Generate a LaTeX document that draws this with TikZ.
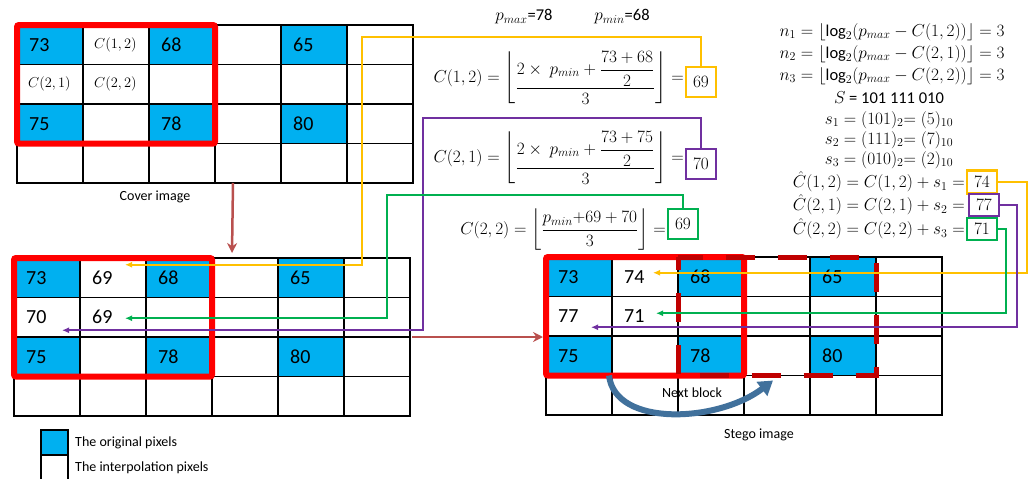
\documentclass[tikz,border=0pt]{standalone}
\usepackage{amsmath}
\usepackage{fontspec}
\setmainfont{Carlito}
\usepackage{tikz}
\usetikzlibrary{arrows.meta, positioning, calc}
\definecolor{pixblue}{HTML}{00B0F0}
\definecolor{blockred}{HTML}{FF0000}
\definecolor{nextred}{HTML}{C00000}
\definecolor{flowbrown}{HTML}{B9504E}
\definecolor{linkyellow}{HTML}{FFC000}
\definecolor{linkpurple}{HTML}{7030A0}
\definecolor{linkgreen}{HTML}{00B050}
\definecolor{jumpblue}{HTML}{41719C}

% 4x6 pixel grid: name, left, top
\newcommand{\pixgrid}[3]{%
  \foreach \r in {0,...,3}
    \foreach \c in {0,...,5}{
      \pgfmathtruncatemacro\isorig{(mod(\r,2)==0 && \r<3 && mod(\c,2)==0) ? 1 : 0}
      \ifnum\isorig=1 \def\pixfill{pixblue}\else\def\pixfill{white}\fi
      \node[cell, fill=\pixfill] (#1-\r-\c) at ({#2+66*\c+33}, {#3+39.5*\r+19.75}) {};
    }}
% floor brackets that wrap the fraction tightly
\newcommand{\tightfloor}[1]{\left\lfloor\vcenter{\hbox{$\displaystyle #1$}}\right\rfloor}

\begin{document}
\begin{tikzpicture}[
    x=1pt, y=-1pt,
    cell/.style={rectangle, draw, line width=1.2pt, minimum width=66pt, minimum height=39.5pt, inner sep=0pt, outer sep=0pt},
    pixval/.style={anchor=west, inner sep=0pt, font=\fontsize{20}{24}\selectfont},
    pixlabel/.style={anchor=west, inner sep=0pt, font=\fontsize{14.5}{17}\selectfont},
    redblock/.style={draw=blockred, line width=6pt, rounded corners=2pt},
    nextblock/.style={draw=nextred, line width=5pt, dash pattern=on 29pt off 23pt, dash phase=16pt},
    flow/.style={-{Stealth[length=10pt, width=10pt]}, line width=2.5pt, flowbrown},
    link/.style={-{Latex[length=7pt, width=6pt]}, line width=1.8pt, #1},
    jump/.style={-{Triangle[length=14pt, width=17pt]}, line width=6pt, jumpblue},
    valbox/.style={rectangle, draw=#1, line width=2.2pt, minimum width=30pt, minimum height=30pt, inner sep=1pt, font=\fontsize{17}{20}\selectfont},
    formula/.style={inner sep=0pt, anchor=east, font=\fontsize{16.5}{19}\selectfont},
    embed/.style={inner sep=0pt, font=\fontsize{16.5}{19}\selectfont},
    caption/.style={inner sep=0pt, font=\fontsize{14}{17}\selectfont}
]
\useasboundingbox (0,0) rectangle (1029,479);

% grids
\pixgrid{cv}{17}{25}
\pixgrid{mid}{14}{258}
\pixgrid{st}{546}{257}

\foreach \r/\c/\v in {0/0/73, 0/2/68, 0/4/65, 2/0/75, 2/2/78, 2/4/80}
  \node[pixval] (cvv-\r-\c) at ([xshift=12pt]cv-\r-\c.west) {\v};
\foreach \r/\c/\v in {0/1/{1,2}, 1/0/{2,1}, 1/1/{2,2}}
  \node[pixlabel] (cvv-\r-\c) at ([xshift=11pt]cv-\r-\c.west) {$C(\v)$};
\foreach \r/\c/\v in {0/0/73, 0/1/69, 0/2/68, 0/4/65, 1/0/70, 1/1/69, 2/0/75, 2/2/78, 2/4/80}
  \node[pixval] (midv-\r-\c) at ([xshift=12pt]mid-\r-\c.west) {\v};
\foreach \r/\c/\v in {0/0/73, 0/1/74, 0/2/68, 0/4/65, 1/0/77, 1/1/71, 2/0/75, 2/2/78, 2/4/80}
  \node[pixval] (stv-\r-\c) at ([xshift=12pt]st-\r-\c.west) {\v};

% blocks
\draw[redblock] (cv-0-0.north west) rectangle (cv-2-2.south east);
\draw[redblock] (mid-0-0.north west) rectangle (mid-2-2.south east);
\draw[redblock] (st-0-0.north west) rectangle (st-2-2.south east);
\draw[nextblock] (st-0-2.north west) rectangle (st-2-4.south east);

\node[caption] (cvcap) at (155,197) {Cover image};
\node[caption] (stcap) at (759,435) {Stego image};
\node[caption] (nextcap) at (692,393) {Next block};

% legend
\node[cell, fill=pixblue, minimum width=27pt, minimum height=25pt] (legorig) at (54.5,442.5) {};
\node[cell, fill=white, minimum width=27pt, minimum height=25pt, below=0pt of legorig] (leginterp) {};
\node[caption, right=7pt of legorig] (legorigtxt) {The original pixels};
\node[caption, right=7pt of leginterp] (leginterptxt) {The interpolation pixels};

% interpolation
\node[embed] (pmax) at (524,17) {$p_{max}$=78};
\node[embed] (pmin) at (622,17) {$p_{min}$=68};
\node[valbox=linkyellow] (b69y) at (701,82) {$69$};
\node[formula] (f12) at ([xshift=-1pt, yshift=4pt]b69y.west) {$C(1,2)=\tightfloor{\frac{2\times\ p_{min}+\dfrac{73+68}{2}}{3}}=$};
\node[valbox=linkpurple] (b70) at (701,164) {$70$};
\node[formula] (f21) at ([xshift=-1pt, yshift=6pt]b70.west) {$C(2,1)=\tightfloor{\frac{2\times\ p_{min}+\dfrac{73+75}{2}}{3}}=$};
\node[valbox=linkgreen] (b69g) at (683,224) {$69$};
\node[formula] (f22) at ([xshift=-1pt, yshift=-6pt]b69g.west) {$C(2,2)=\left\lfloor\dfrac{p_{min}{+}69+70}{3}\right\rfloor=$};

% embedding
\node[embed] (n1) at (892,32) {$n_1=\lfloor\log_2(p_{max}-C(1,2))\rfloor=3$};
\node[embed] (n2) at (892,54) {$n_2=\lfloor\log_2(p_{max}-C(2,1))\rfloor=3$};
\node[embed] (n3) at (892,76) {$n_3=\lfloor\log_2(p_{max}-C(2,2))\rfloor=3$};
\node[embed] (sbits) at (889,98) {$S$ = 101 111 010};
\node[embed] (s1) at (889,120) {$s_1=(101)_2{=}\;(5)_{10}$};
\node[embed] (s2) at (889,140) {$s_2=(111)_2{=}\;(7)_{10}$};
\node[embed] (s3) at (889,160) {$s_3=(010)_2{=}\;(2)_{10}$};
\node[valbox=linkyellow, minimum height=23pt] (b74) at (982,182) {$74$};
\node[embed, anchor=base east] (ch12) at ([xshift=-1pt]b74.base west) {$\hat{C}(1,2)=C(1,2)+s_1=$};
\node[valbox=linkpurple, minimum height=22pt] (b77) at (984,205) {$77$};
\node[embed, anchor=base east] (ch21) at ([xshift=-3pt]b77.base west) {$\hat{C}(2,1)=C(2,1)+s_2=$};
\node[valbox=linkgreen, minimum height=22pt] (b71) at (982,229) {$71$};
\node[embed, anchor=base east] (ch22) at ([xshift=-1pt]b71.base west) {$\hat{C}(2,2)=C(2,2)+s_3=$};

% connectors
\coordinate (ybend) at (362,37);
\coordinate (pbend) at (423,118);
\coordinate (gbend) at (387,195);
\draw[link=linkyellow] (b69y.north) |- (ybend) |- ($(mid-0-1.center)+(12,-13)$);
\draw[link=linkpurple] (b70.north) |- (pbend) |- ($(mid-1-0.center)+(15,13)$);
\draw[link=linkgreen] (b69g.north) |- (gbend) |- ($(mid-1-1.center)+(12,1)$);
\draw[link=linkyellow] (b74.east) -- ++(29,0) |- ($(st-0-1.center)+(8,-4)$);
\draw[link=linkpurple] (b77.east) -- ++(17,0) |- ($(st-1-0.center)+(12,11)$);
\draw[link=linkgreen] (b71.east) -- ++(8,0) |- ($(st-1-1.center)+(11,-3)$);

\draw[flow] ([xshift=18pt]cv-3-3.south west) -- ([xshift=20pt, yshift=5pt]mid-0-3.north west);
\draw[flow] ([xshift=2pt]mid-2-5.north east) -- ([xshift=-3pt]mid-2-5.north east -| st-2-0.west);
\draw[jump] ([xshift=-3pt]st-2-0.south east) .. controls +(6,52) and +(-55,42) .. ($(st-3-3.north)+(-4,5)$);
\end{tikzpicture}
\end{document}
